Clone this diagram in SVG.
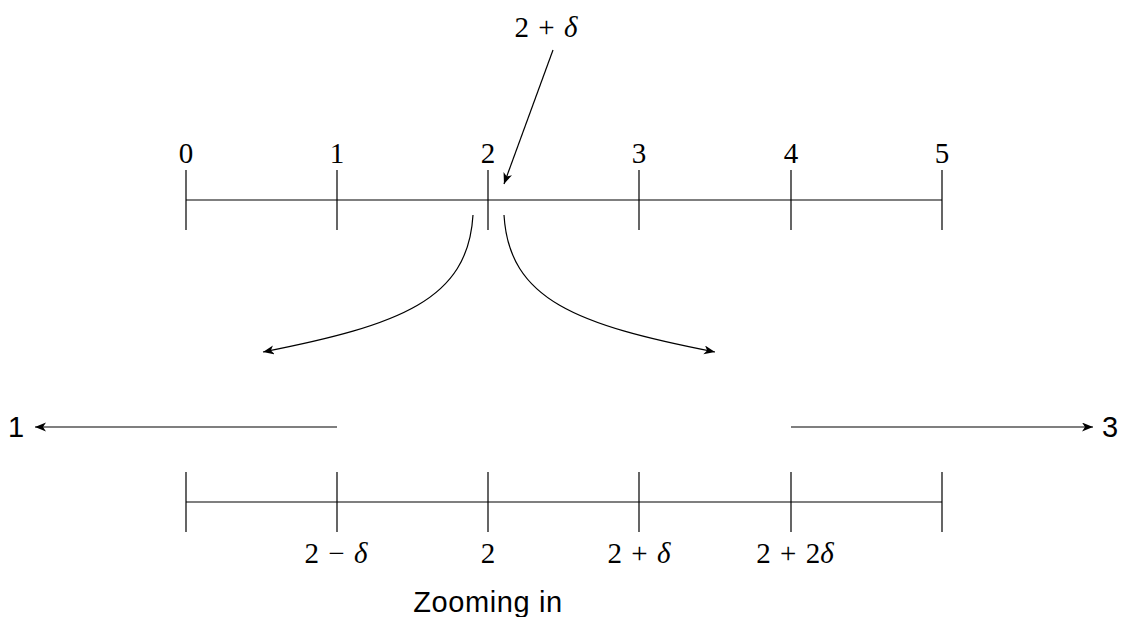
<svg xmlns="http://www.w3.org/2000/svg" width="1121" height="617" viewBox="0 0 1121 617">
<style>
.ln{stroke:#000;stroke-width:1.2;fill:none}
.ar{stroke:#000;stroke-width:1.2;fill:none;marker-end:url(#ah)}
.num{font-family:"Liberation Serif","DejaVu Serif",serif;font-size:29px;text-anchor:middle;fill:#000}
.it{font-style:italic}
.sans{font-family:"Liberation Sans","DejaVu Sans",sans-serif;font-size:29px;text-anchor:middle;fill:#000}
</style>
<defs>
<marker id="ah" markerUnits="userSpaceOnUse" markerWidth="13" markerHeight="10" refX="11" refY="4.5" orient="auto">
<path d="M0,0 L11,4.5 L0,9 L3,4.5 z" fill="#000"/>
</marker>
</defs>
<rect width="1121" height="617" fill="#fff"/>
<g id="top-axis">
<path class="ln" d="M186,200 H942 M186,170 V230 M337,170 V230 M488,170 V230 M639,170 V230 M791,170 V230 M942,170 V230"/>
<text class="num" x="186" y="163">0</text>
<text class="num" x="337" y="163">1</text>
<text class="num" x="488" y="163">2</text>
<text class="num" x="639" y="163">3</text>
<text class="num" x="791" y="163">4</text>
<text class="num" x="942" y="163">5</text>
</g>
<g id="label-top">
<text class="num" x="546" y="37">2 <tspan dx="2">+</tspan> <tspan class="it" dx="2">δ</tspan></text>
</g>
<g id="bottom-axis">
<path class="ln" d="M186,502 H942 M186,472 V532 M337,472 V532 M488,472 V532 M639,472 V532 M791,472 V532 M942,472 V532"/>
<text class="num" x="336" y="563">2 <tspan dx="2">−</tspan> <tspan class="it" dx="2">δ</tspan></text>
<text class="num" x="488" y="563">2</text>
<text class="num" x="639" y="563">2 <tspan dx="2">+</tspan> <tspan class="it" dx="2">δ</tspan></text>
<text class="num" x="795" y="563">2 <tspan dx="2">+</tspan> <tspan dx="2">2</tspan><tspan class="it">δ</tspan></text>
</g>
<g id="label-1"><text class="sans" x="16" y="437">1</text></g>
<g id="label-3"><text class="sans" x="1110" y="437">3</text></g>
<g id="caption"><text class="sans" x="488" y="612" letter-spacing="0.6">Zooming in</text></g>
<g id="connectors">
<path class="ar" d="M553,50 L504,184"/>
<path class="ar" d="M473,215 C468,300 400,325 263,352"/>
<path class="ar" d="M504,215 C509,300 577,325 715,352"/>
<path class="ar" d="M337,427 H35"/>
<path class="ar" d="M791,427 H1093"/>
</g>
</svg>
